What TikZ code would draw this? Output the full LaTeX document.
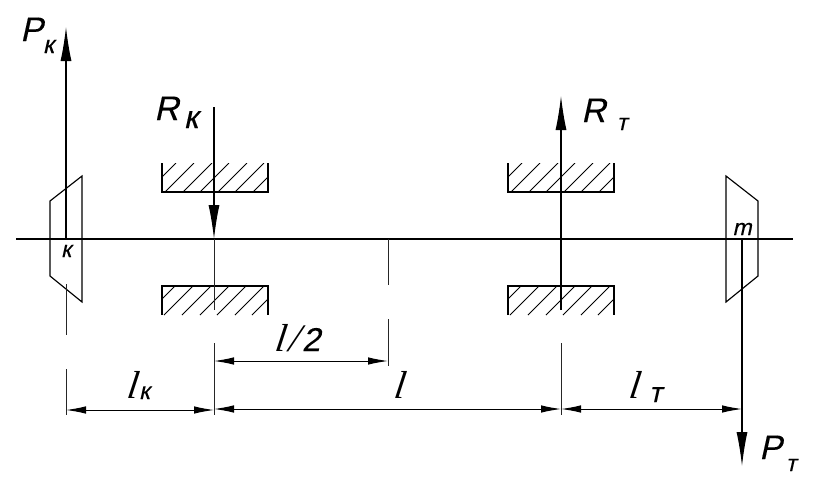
\documentclass[tikz,border=0pt]{standalone}
\usepackage{fontspec}
\setmainfont{Liberation Sans}
\newfontfamily\lenfont{Liberation Serif}[ItalicFeatures={FakeSlant=0.15}]
\newfontfamily\lblfont{Liberation Sans}[FakeSlant=0.22,FakeBold=0.25]
\usetikzlibrary{arrows.meta}
\newcommand{\lblsub}[4]{\kern#1pt\raisebox{#2pt}{\lblfont\upshape\fontsize{#3}{#3}\selectfont #4}}
\tikzset{
	shaft/.style={line width=1.3pt},
	thinline/.style={line width=0.9pt,draw=black!85},
	force/.style={line width=1.1pt,-{Latex[length=34pt,width=11pt]}},
	dimen/.style={line width=1pt,{Latex[length=20pt,width=7.5pt]}-{Latex[length=20pt,width=7.5pt]}},
	housing/.style={line width=1.15pt},
	hatchline/.style={line width=0.8pt},
	lbl/.style={inner sep=0pt,font=\fontsize{34}{34}\selectfont\lblfont,anchor=base west},
	lenlbl/.style={inner sep=0pt,font=\fontsize{39}{39}\selectfont\lenfont\itshape,anchor=base west},
	smalllbl/.style={inner sep=0pt,font=\fontsize{23}{23}\selectfont\lblfont}
}
\begin{document}
\begin{tikzpicture}[x=1pt,y=1pt,yscale=-1,xscale=1]
	\useasboundingbox (0,0) rectangle (833,488);
	
	%Coordinates of the shaft and forces
	\coordinate (shaftL) at (16,239);
	\coordinate (shaftR) at (793,239);
	\coordinate (pkTop) at (66,27);
	\coordinate (pkRoot) at (66,239);
	\coordinate (pkLow) at (66,284);
	\coordinate (pkEnd) at (66,335);
	\coordinate (rkTop) at (214,107);
	\coordinate (rkTip) at (214,239);
	\coordinate (rkEnd) at (214,310);
	\coordinate (rtTip) at (561,96);
	\coordinate (rtEnd) at (561,310);
	\coordinate (ptRoot) at (742,239);
	\coordinate (ptTip) at (742,466);
	\coordinate (midTop) at (388,239);
	\coordinate (midEnd) at (388,285);
	
	%Shape: left gear
	\draw [housing] (50,201) -- (82,176) -- (82,302) -- (50,276) -- cycle ;
	%Shape: right gear
	\draw [housing] (726,176) -- (758,201) -- (758,276) -- (726,302) -- cycle ;
	
	%Bearings, upper ones open at the top, lower ones open at the bottom
	\foreach \bx in {162,508} {
		\draw [housing] (\bx,163) -- (\bx,192) -- (\bx+106,192) -- (\bx+106,163) ;
		\draw [housing] (\bx,315) -- (\bx,286) -- (\bx+106,286) -- (\bx+106,315) ;
		\begin{scope}
			\clip (\bx,163) rectangle (\bx+106,192);
			\foreach \hx in {-15,3,21,38,56,73,91}
				\draw [hatchline] (\bx+\hx,192) -- (\bx+\hx+29,163) ;
		\end{scope}
		\begin{scope}
			\clip (\bx,286) rectangle (\bx+106,315);
			\foreach \hx in {-16,2,20,38,55,73,90}
				\draw [hatchline] (\bx+\hx,315) -- (\bx+\hx+29,286) ;
		\end{scope}
	}
	
	%Straight Lines
	\draw [shaft] (shaftL) -- (shaftR) ;
	\draw [force] (pkRoot) -- (pkTop) ;
	\draw [thinline] (pkLow) -- (pkEnd) ;
	\draw [force] (rkTop) -- (rkTip) ;
	\draw [thinline] (rkTip) -- (rkEnd) ;
	\draw [force] (rtEnd) -- (rtTip) ;
	\draw [force] (ptRoot) -- (ptTip) ;
	\draw [thinline] (midTop) -- (midEnd) ;
	
	%Extension lines
	\coordinate (extKa) at (66,369);
	\coordinate (extKb) at (66,415);
	\coordinate (extBa) at (214,343);
	\coordinate (extBb) at (214,415);
	\coordinate (extMa) at (388,319);
	\coordinate (extMb) at (388,366);
	\coordinate (extTa) at (561,343);
	\coordinate (extTb) at (561,415);
	\draw [thinline] (extKa) -- (extKb) ;
	\draw [thinline] (extBa) -- (extBb) ;
	\draw [thinline] (extMa) -- (extMb) ;
	\draw [thinline] (extTa) -- (extTb) ;
	
	%Dimension lines
	\coordinate (dimHa) at (214,361);
	\coordinate (dimHb) at (388,361);
	\coordinate (dimKa) at (66,410);
	\coordinate (dimKb) at (214,410);
	\coordinate (dimLa) at (214,409);
	\coordinate (dimLb) at (561,409);
	\coordinate (dimTa) at (561,409);
	\coordinate (dimTb) at (742,409);
	\draw [dimen] (dimHa) -- (dimHb) ;
	\draw [dimen] (dimKa) -- (dimKb) ;
	\draw [dimen] (dimLa) -- (dimLb) ;
	\draw [dimen] (dimTa) -- (dimTb) ;
	
	% Text Node
	\node [lbl] (labelPk) at (20,41) {P\lblsub{0}{-12}{25}{к}};
	% Text Node
	\node [lbl] (labelRk) at (154,120) {R\lblsub{5}{-8}{32}{к}};
	% Text Node
	\node [lbl] (labelRt) at (581,122) {R\lblsub{11}{-8}{23}{т}};
	% Text Node
	\node [lbl] (labelPt) at (759,459) {P\lblsub{4}{-12}{23}{т}};
	% Text Node
	\node [smalllbl] (labelK) at (66,251) {к};
	% Text Node
	\node [smalllbl] (labelM) at (742,229) {m};
	% Text Node
	\node [lenlbl] (labelLk) at (126,398) {l\lblsub{2}{-1}{24}{к}};
	% Text Node
	\node [lenlbl] (labelHalf) at (274,351) {l\kern3pt/\kern3pt{\lblfont\upshape\fontsize{33}{33}\selectfont 2}};
	% Text Node
	\node [lenlbl] (labelL) at (393,398) {l};
	% Text Node
	\node [lenlbl] (labelLt) at (628,398) {l\lblsub{10}{-4}{28}{т}};
\end{tikzpicture}
\end{document}
